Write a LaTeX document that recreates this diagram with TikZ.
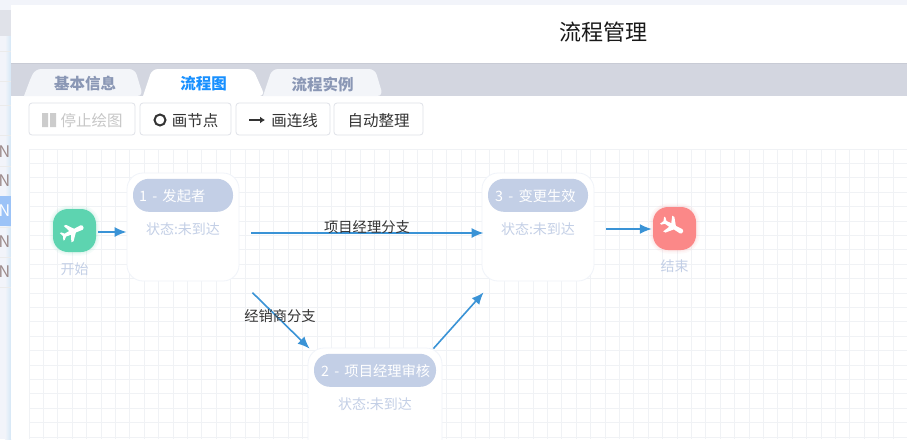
\documentclass[tikz,border=0pt]{standalone}
\usepackage{fontspec}
\setmainfont{Noto Sans CJK SC}
\usepackage{xcolor}
\usetikzlibrary{arrows.meta, calc, positioning}
\definecolor{barbg}{HTML}{D3D6E0}
\definecolor{tabbg}{HTML}{F3F5F9}
\definecolor{tabtxt}{HTML}{8A97B5}
\definecolor{tabact}{HTML}{1890FF}
\definecolor{btnline}{HTML}{DFE2E8}
\definecolor{gridline}{HTML}{F0F2F5}
\definecolor{pillbg}{HTML}{C3CFE6}
\definecolor{linkblue}{HTML}{3A93D6}
\definecolor{startbg}{HTML}{5DD4B0}
\definecolor{endbg}{HTML}{FB8888}
\definecolor{stripbg}{HTML}{F2F4FA}
\definecolor{rowblue}{HTML}{9CC3F7}
\definecolor{rowtxt}{HTML}{9D8B8B}

\begin{document}
\begin{tikzpicture}[
    x=1pt, y=-1pt,
    btn/.style={rectangle, draw=btnline, line width=.8pt, rounded corners=3pt, minimum height=32pt, inner sep=0pt, text height=14.5pt, text depth=0pt, font=\fontsize{15.5}{16}\selectfont, text=black!80},
    tabtext/.style={font=\fontsize{15.5}{16}\selectfont\bfseries, text=tabtxt},
    card/.style={rectangle, draw=pillbg!25, line width=.8pt, fill=white, rounded corners=16pt, minimum width=112pt, minimum height=108pt, inner sep=0pt},
    pill/.style={rectangle, fill=pillbg, rounded corners=16pt, minimum height=33pt, inner sep=0pt, font=\fontsize{14.3}{15}\selectfont, text=white},
    state/.style={font=\fontsize{14}{15}\selectfont, text=pillbg},
    icon/.style={rectangle, rounded corners=15pt, minimum size=43pt, inner sep=0pt},
    link/.style={-{Latex[length=12pt,width=10pt]}, line width=1.6pt, draw=linkblue},
    linklabel/.style={font=\fontsize{14.3}{15}\selectfont, text=black!80, inner sep=0pt},
    rowmark/.style={anchor=east, inner sep=0pt, font=\fontsize{16}{17}\selectfont, text=rowtxt},
    planeicon/.pic={
        \fill[white] (15,-1.5) -- (13,-3) -- (4,-2.5) -- (-3,-11) -- (-6,-11) -- (-2.5,-2.5) -- (-9,-2) -- (-12,-5) -- (-14,-5) -- (-12,0)
            -- (-14,5) -- (-12,5) -- (-9,2) -- (-2.5,2.5) -- (-6,11) -- (-3,11) -- (4,2.5) -- (13,3) -- (15,1.5) -- cycle;
    }
]
    \clip (0,0) rectangle (907,439);
    \fill[white] (0,0) rectangle (907,439);

    % 左侧列表
    \fill[stripbg] (0,0) rectangle (11,439);
    \fill[barbg!70] (0,10) rectangle (11,36);
    \fill[left color=stripbg, right color=linkblue!22] (5,36) rectangle (11,439);
    \fill[rowblue] (0,196) rectangle (11,226);
    \foreach \ypos in {51,81,105,135,166,227,257,287} {
        \draw[black!8] (0,\ypos) -- (11,\ypos);
    }
    \foreach \ypos/\idx in {152/a,181/b,242/d,272/e} {
        \node[rowmark] (row\idx) at (10.5,\ypos) {N};
    }
    \node[rowmark, text=white] (rowc) at (10.5,211) {N};

    % 顶部
    \fill[stripbg] (0,0) rectangle (907,5);
    \fill[white, rounded corners=4pt] (11,5) rectangle (920,70);
    \fill[barbg] (11,63) rectangle (907,96);
    \fill[barbg!95!black] (11,62.5) rectangle (907,64);
    \fill[white] (11,96) rectangle (907,439);
    \node[font=\fontsize{22}{24}\selectfont, text=black!90] (title) at (603,32) {流程管理};

    % 标签页
    \fill[tabbg] (24,96) -- (30,80) [rounded corners=6pt] -- (35,69) -- (135,69) -- (143,96) [sharp corners] -- cycle;
    \fill[tabbg] (263,96) [rounded corners=6pt] -- (272,69) -- (375,69) -- (383,96) [sharp corners] -- cycle;
    \fill[white] (143,96) [rounded corners=6pt] -- (152,69) -- (253,69) -- (265,96) [sharp corners] -- cycle;
    \node[tabtext] (tabinfo) at (85,84) {基本信息};
    \node[tabtext, text=tabact] (tabflow) at (203.5,84) {流程图};
    \node[tabtext] (tabcase) at (322.5,84) {流程实例};

    % 按钮
    \node[btn, minimum width=106pt, text=black!22] (btnstop) at (82,119) {\hspace{19pt}停止绘图};
    \fill[black!20] (42,113) rectangle (48,127) (50,113) rectangle (56,127);
    \node[btn, minimum width=91pt] (btnnode) at (185.5,119) {\hspace{19pt}画节点};
    \draw[black!80, line width=2pt] (160,120) circle (5.5);
    \node[btn, minimum width=94pt] (btnlink) at (283,119) {\hspace{23pt}画连线};
    \draw[black!80, line width=2pt, -{Latex[length=5pt,width=7pt]}] (249,120) -- (265,120);
    \node[btn, minimum width=89pt] (btnauto) at (378.5,119) {自动整理};

    % 网格
    \foreach \xpos in {0,...,61} {
        \draw[gridline, line width=1pt] (29+14.4*\xpos,149) -- (29+14.4*\xpos,439);
    }
    \foreach \ypos in {0,...,20} {
        \draw[gridline, line width=1pt] (29,149+14.4*\ypos) -- (907,149+14.4*\ypos);
    }

    % 开始
    \foreach \lw in {7,4,2} {
        \draw[startbg, line width=\lw, opacity=.06, rounded corners=15pt] (53,209) rectangle (96,252);
    }
    \node[icon, fill=startbg] (start) at (74.5,230.5) {};
    \pic[rotate=25, scale=.82] at (72,232) {planeicon};
    \node[state, below=6.5pt of start] (startlabel) {开始};

    % 节点
    \node[card] (first) at (183,227) {};
    \node[pill, minimum width=100pt, below=6pt of first.north] (firstpill) {};
    \node[pill, anchor=west, fill=none] (firsttext) at (139,196) {1\hspace{2pt} - \hspace{2pt}发起者};
    \node[state] (firststate) at (183,229) {状态:未到达};

    \node[card] (third) at (538,227) {};
    \node[pill, minimum width=100pt, below=6pt of third.north] (thirdpill) {};
    \node[pill, anchor=west, fill=none] (thirdtext) at (495,196) {3\hspace{2pt} - \hspace{2pt}变更生效};
    \node[state] (thirdstate) at (538,229) {状态:未到达};

    \node[card, minimum width=134pt] (second) at (375,402) {};
    \node[pill, minimum width=122pt, below=6pt of second.north] (secondpill) {};
    \node[pill, anchor=west, fill=none] (secondtext) at (321,371) {2\hspace{2pt} - \hspace{2pt}项目经理审核};
    \node[state] (secondstate) at (375,404) {状态:未到达};

    % 结束
    \foreach \lw in {7,4,2} {
        \draw[endbg, line width=\lw, opacity=.06, rounded corners=15pt] (653,207) rectangle (696,250);
    }
    \node[icon, fill=endbg] (finish) at (674.5,228.5) {};
    \pic[rotate=-30, scale=.82] at (672,226) {planeicon};
    \node[state, below=6pt of finish] (finishlabel) {结束};

    % 连线
    \draw[link] ([xshift=2]start.east |- 0,232) -- (first.west |- 0,232);
    \draw[link] ([shift={(12,6)}]first.east) -- ([shift={(2,6)}]third.west);
    \draw[link] ([shift={(13,120)}]first.north east) -- ([shift={(2,1)}]second.north west);
    \draw[link] ([shift={(-9,1)}]second.north east) -- ([shift={(2,11)}]third.south west);
    \draw[link] ([shift={(12,2)}]third.east) -- ([shift={(-1,0.5)}]finish.west);

    % 分支标签
    \node[linklabel] (projlabel) at (367,227) {项目经理分支};
    \node[linklabel] (dealerlabel) at (280,316) {经销商分支};
\end{tikzpicture}
\end{document}
